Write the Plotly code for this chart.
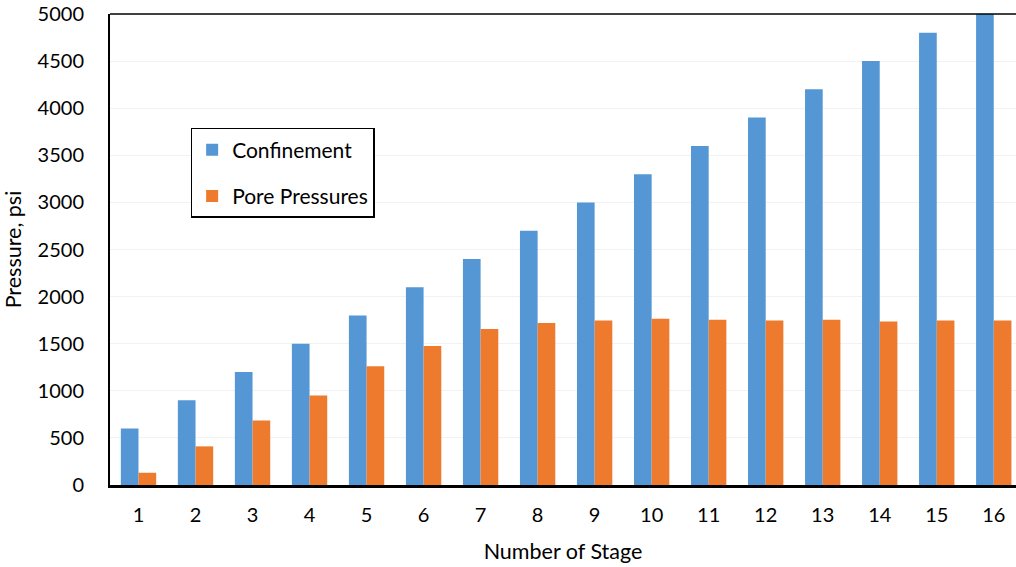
import plotly.graph_objects as go

stages = [str(i) for i in range(1, 17)]
confinement = [600, 900, 1200, 1500, 1800, 2100, 2400, 2700, 3000, 3300, 3600, 3900, 4200, 4500, 4800, 5100]
pore_pressures = [130, 410, 685, 950, 1260, 1475, 1655, 1720, 1745, 1765, 1755, 1745, 1755, 1735, 1745, 1745]
y_ticks = [0, 500, 1000, 1500, 2000, 2500, 3000, 3500, 4000, 4500, 5000]

FONT = "Lato"

fig = go.Figure()
fig.add_trace(go.Bar(x=list(range(1, 17)), y=confinement, name="Confinement",
                     marker=dict(color="#5597D4", line=dict(width=0)), legendgroup="a"))
fig.add_trace(go.Bar(x=list(range(1, 17)), y=pore_pressures, name="Pore Pressures",
                     marker=dict(color="#EE7A2E", line=dict(width=0)), legendgroup="b"))

fig.update_layout(
    width=1016, height=567,
    margin=dict(l=110, r=0, t=14, b=82),
    paper_bgcolor="white", plot_bgcolor="white",
    barmode="group", bargap=0.38, bargroupgap=0,
    font=dict(family=FONT, color="black", size=19),
    showlegend=True,
    legend=dict(x=0.089, y=0.758, xanchor="left", yanchor="top",
                bordercolor="black", borderwidth=1.5, bgcolor="white",
                font=dict(size=21, family=FONT), traceorder="grouped",
                tracegroupgap=16, itemwidth=30),
    xaxis=dict(range=[0.5, 16.39], tickmode="array", tickvals=list(range(1, 17)), ticktext=stages,
               showline=True, linecolor="black", linewidth=3, showgrid=False, ticks="",
               tickfont=dict(size=20), ticklabelstandoff=10,
               title=dict(text="Number of Stage", font=dict(size=21.5), standoff=19)),
    yaxis=dict(range=[0, 5000], tickvals=y_ticks, showline=True, linecolor="black", linewidth=2,
               showgrid=True, gridcolor="#F2F2F2", gridwidth=1, zeroline=False, ticks="",
               tickfont=dict(size=20), ticklabelstandoff=20,
               title=dict(text="Pressure, psi", font=dict(size=21.5), standoff=11)),
    shapes=[dict(type="line", xref="paper", yref="paper", x0=0, x1=1, y0=1, y1=1,
                 line=dict(color="black", width=1.5))],
)

fig.write_html("out.html")
